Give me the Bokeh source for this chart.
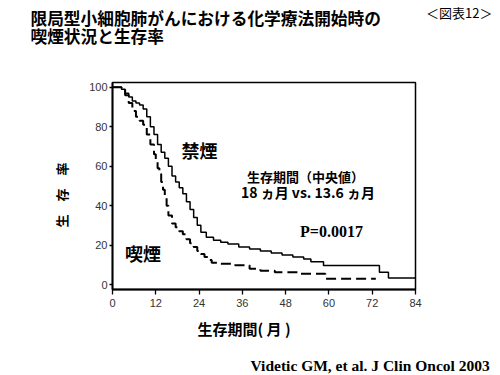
from bokeh.plotting import figure
from bokeh.models import Label, Range1d, FixedTicker, Title
from bokeh.embed import file_html
from bokeh.resources import INLINE

# ---- data (months, survival %) ----
t_nonsmoker = [0, 2.5, 3.5, 4.5, 5.5, 6.5, 7.5, 8.5, 9.5, 10.5,
               11.5, 12.5, 13.5, 14.5, 15.5, 16.5, 17.5, 18.5, 19.5, 20.5,
               21.5, 22.5, 23.5, 24.5, 26, 28, 30, 32, 35, 38,
               41, 44, 47, 50, 53, 55, 58.5, 74, 76.5, 84]
s_nonsmoker = [100, 99, 97, 95, 93, 92, 91, 89, 85, 80,
               76, 71, 67, 64, 60, 55, 52, 49, 46, 42,
               38, 34, 30, 26.5, 24, 22.5, 21.5, 20.5, 19, 18,
               17, 16, 15, 14, 13, 11.5, 9.6, 6.2, 3.3, 3.3]

t_smoker = [0, 2.5, 3.5, 4.5, 5.5, 6.5, 7.5, 8.5, 9.5, 10.5,
            11.5, 12.0, 12.5, 13, 13.5, 14, 14.5, 15, 15.5, 16.5,
            17.5, 18.5, 19.5, 20.5, 21.5, 22.5, 23.5, 24.5, 25.5, 26.5,
            27.5, 30, 34, 38, 41, 45, 52, 59, 73]
s_smoker = [100, 99, 96, 92, 88, 85, 83, 81, 76, 71,
            66, 63, 59, 56, 52, 48, 44, 40, 35, 31,
            29, 27, 25.5, 23, 21, 19, 17, 15.5, 14, 12.5,
            11, 10.5, 9.8, 8, 7, 6.2, 5.5, 3, 3]

x_ticks = [0, 12, 24, 36, 48, 60, 72, 84]
y_ticks = [0, 20, 40, 60, 80, 100]

title_lines = ["限局型小細胞肺がんにおける化学療法開始時の", "喫煙状況と生存率"]
fig_no = "＜図表12＞"
label_nonsmoker = "禁煙"
label_smoker = "喫煙"
median_lines = ["生存期間（中央値）", "18 ヵ月 vs. 13.6 ヵ月"]
p_value = "P=0.0017"
x_label = "生存期間( 月 )"
y_label = "生　存　率"
source_note = "Videtic GM, et al. J Clin Oncol 2003"

JP = "Noto Sans CJK JP"
SERIF = "Liberation Serif"
W, H = 500, 375
ML, MR, MT, MB = 112, 85, 82, 86
x0, x1 = 0, 84
y0, y1 = -2.5, 102.4

p = figure(width=W, height=H, output_backend="svg", toolbar_location=None,
           x_range=Range1d(x0, x1), y_range=Range1d(y0, y1),
           min_border_left=ML, min_border_right=MR, min_border_top=MT, min_border_bottom=MB)
p.grid.visible = False
p.outline_line_color = "black"
p.outline_line_width = 1.5
p.background_fill_color = "white"
p.border_fill_color = "white"

for ax, ticks in ((p.xaxis[0], x_ticks), (p.yaxis[0], y_ticks)):
    ax.ticker = FixedTicker(ticks=ticks)
    ax.axis_line_color = "black"
    ax.axis_line_width = 1.8
    ax.major_tick_line_color = "black"
    ax.major_tick_line_width = 1.3
    ax.major_tick_in = 0
    ax.major_tick_out = 5
    ax.minor_tick_line_color = None
    ax.major_label_text_font = "Liberation Sans"
    ax.major_label_text_font_size = "11px"
    ax.major_label_text_color = "#333333"
p.yaxis[0].major_tick_out = 3
p.yaxis[0].major_label_standoff = 2
p.xaxis[0].major_label_standoff = 4


def title(text, side, size, standoff, offset=0.0, align="left", font=JP,
          style="bold", valign="middle"):
    p.add_layout(Title(text=text, align=align, offset=offset, standoff=standoff,
                       vertical_align=valign, text_font=font, text_font_size=size,
                       text_font_style=style, text_color="black"), side)


# above panel, stacked from the frame outwards
title(" ", "above", "1px", 30.5)
title(title_lines[1], "above", "16.7px", -0.5, offset=30 - ML)
title(title_lines[0], "above", "16.7px", -16.2, offset=30 - ML)
title(fig_no, "above", "13px", -20.8, offset=415 - 492, align="right", style="normal")

# left panel
title(y_label, "left", "13px", 29, offset=62)

# below panel, stacked from the frame outwards
title(x_label, "below", "15px", 14.3, offset=197 - ML)
title(" ", "below", "1px", 15.5)
title(source_note, "below", "15.5px", -19.2, offset=250 - ML, font=SERIF)

p.step(t_nonsmoker, s_nonsmoker, mode="after", line_color="black", line_width=1.5)
p.step(t_smoker, s_smoker, mode="after", line_color="black", line_width=2,
       line_dash="10 5")

fw = W - ML - MR
fh = H - MT - MB
def dx(px):
    return x0 + (px - ML) * (x1 - x0) / fw
def dy(py):
    return y1 - (py - MT) * (y1 - y0) / fh

def add(text, px, py, size, font=JP):
    p.add_layout(Label(x=dx(px), y=dy(py), text=text, text_font=font,
                       text_font_size=size, text_font_style="bold",
                       text_align="center", text_baseline="middle",
                       text_color="black"))

add(label_nonsmoker, 199, 149, "18px")
add(label_smoker, 142.5, 252.5, "18px")
add(median_lines[0], 305, 176, "13px")
add(median_lines[1], 307.5, 191.5, "14px")
add(p_value, 331, 231, "16px", font=SERIF)

open("out.html", "w").write(file_html(p, INLINE))
